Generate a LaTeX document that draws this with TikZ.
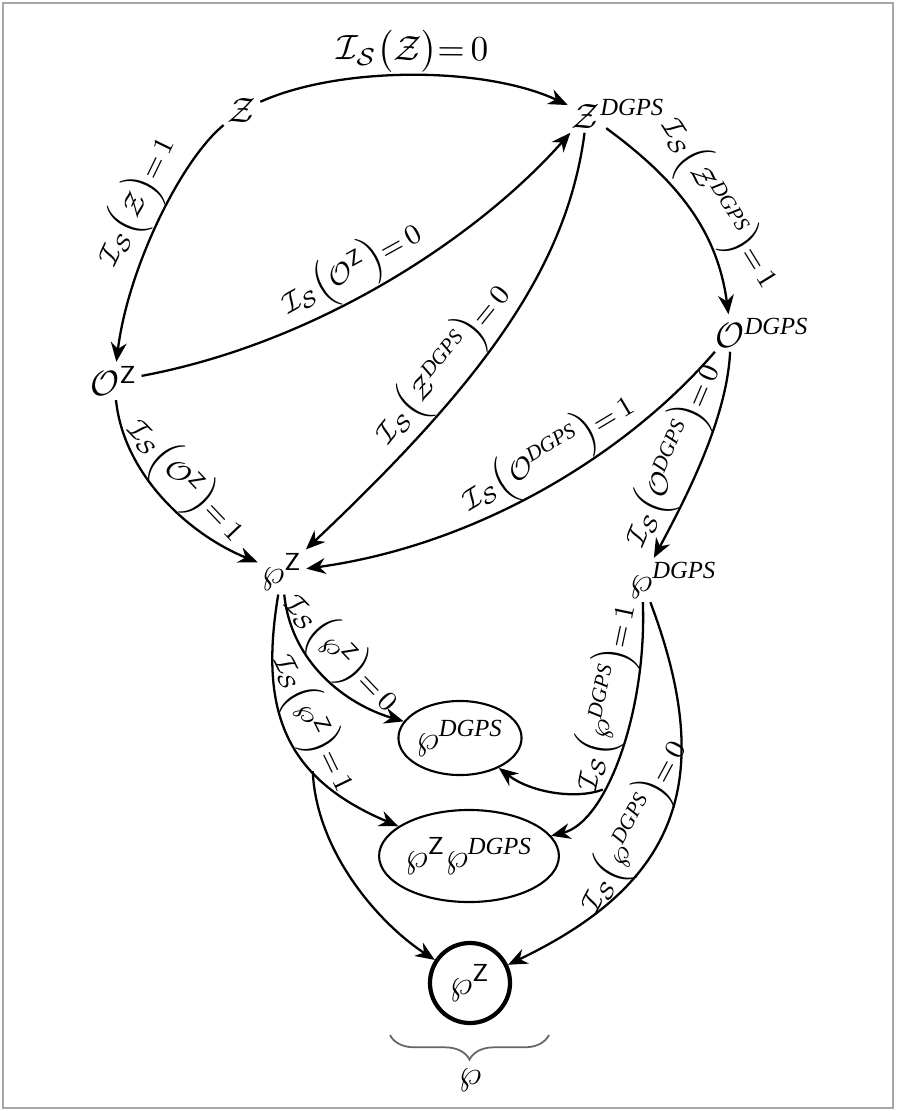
\documentclass[tikz,border=0pt]{standalone}
\usepackage{amsmath}
\usepackage{mathtools}
\usepackage{fontspec}
\setmainfont{Liberation Serif}
\usetikzlibrary{arrows.meta,shapes.geometric,decorations.pathreplacing}
\newcommand{\IS}{\mathcal{I}_{\mathcal{S}}}
\newcommand{\eqv}[1]{{=}\,#1}
\begin{document}
\begin{tikzpicture}[x=0.01cm,y=-0.01cm,
  arr/.style={-{Stealth[length=5.5pt,width=4.5pt]},line width=0.65pt},
  st/.style={inner sep=1pt},
  lab/.style={sloped,above,inner sep=0pt,font=\footnotesize},
  ell/.style={ellipse,draw,line width=0.6pt,inner sep=0pt}]
\useasboundingbox (0,0) rectangle (896,1111);
\draw[gray!70,line width=0.5pt] (3,3) rectangle (893,1108);

% nodes
\node[st] (Z)  at (242,110) {$\mathcal{Z}$};
\node[st] (ZD) at (587,114) {$\mathcal{Z}^{\mathrlap{\mathit{DGPS}}}$};
\node[st] (OZ) at (114,381) {$\mathcal{O}^{\mathsf{Z}}$};
\node[st] (OD) at (731,333) {$\mathcal{O}^{\mathrlap{\mathit{DGPS}}}$};
\node[st] (PZ) at (282,572) {$\wp^{\mathsf{Z}}$};
\node[st] (PD) at (642,580) {$\wp^{\mathrlap{\mathit{DGPS}}}$};
\node[ell,minimum width=1.1cm,minimum height=0.74cm] (E1) at (460,738) {$\wp^{\mathit{DGPS}}$};
\node[ell,minimum width=1.32cm,minimum height=0.92cm] (E2) at (469,856) {$\wp^{\mathsf{Z}}\wp^{\mathit{DGPS}}$};
\node[circle,draw,line width=1.2pt,minimum size=0.8cm,inner sep=0pt] (C) at (470,983) {$\wp^{\mathsf{Z}}$};

% edges
\draw[arr] (Z) .. controls (340,66) and (484,66) .. (ZD)
  node[lab,pos=0.5,inner sep=0.5pt,font=\normalsize] {$\IS\bigl(\mathcal{Z}\bigr)\eqv{0}$};
\draw[arr] (Z) .. controls (181,160) and (128,268) .. (OZ)
  node[lab,pos=0.47] {$\IS\Bigl(\mathcal{Z}\Bigr)\eqv{1}$};
\draw[arr] (OZ) .. controls (318,343) and (478,237) .. (ZD)
  node[lab,pos=0.45] {$\IS\Bigl(\mathcal{O}^{\mathsf{Z}}\Bigr)\eqv{0}$};
\draw[arr] (OZ) .. controls (124,477) and (192,536) .. (PZ)
  node[lab,pos=0.5] {$\IS\Bigl(\mathcal{O}^{\mathsf{Z}}\Bigr)\eqv{1}$};
\draw[arr] (ZD) .. controls (567,268) and (482,383) .. (PZ)
  node[lab,pos=0.63] {$\IS\Bigl(\mathcal{Z}^{\mathit{DGPS}}\Bigr)\eqv{0}$};
\draw[arr] (ZD) .. controls (674,178) and (717,228) .. (OD)
  node[lab,pos=0.56] {$\IS\Bigl(\mathcal{Z}^{\mathit{DGPS}}\Bigr)\eqv{1}$};
\draw[arr] (OD) .. controls (627,454) and (478,545) .. (PZ)
  node[lab,pos=0.45] {$\IS\Bigl(\mathcal{O}^{\mathit{DGPS}}\Bigr)\eqv{1}$};
\draw[arr] (OD) .. controls (727,418) and (687,496) .. (PD)
  node[lab,pos=0.55] {$\IS\Bigl(\mathcal{O}^{\mathit{DGPS}}\Bigr)\eqv{0}$};
\draw[arr] (PZ) .. controls (291,662) and (345,704) .. (E1)
  node[lab,pos=0.47] {$\IS\Bigl(\wp^{\mathsf{Z}}\Bigr)\eqv{0}$};
\draw[arr] (PZ) .. controls (259,710) and (284,778) .. (E2)
  node[lab,pos=0.5] {$\IS\Bigl(\wp^{\mathsf{Z}}\Bigr)\eqv{1}$}
  coordinate[pos=0.67] (b1);
\draw[arr] (b1) .. controls (316,850) and (377,922) .. (C);
\draw[arr] (PD) .. controls (647,710) and (607,822) .. (E2)
  node[lab,pos=0.32] {$\IS\Bigl(\wp^{\mathit{DGPS}}\Bigr)\eqv{1}$}
  coordinate[pos=0.65] (b2);
\draw[arr] (b2) .. controls (575,800) and (530,792) .. (E1);
\draw[arr] (PD) .. controls (720,787) and (672,886) .. (C)
  node[lab,pos=0.55] {$\IS\Bigl(\wp^{\mathit{DGPS}}\Bigr)\eqv{0}$};

% brace
\coordinate (bl) at (390,1035);
\coordinate (br) at (549,1035);
\draw[gray!80!black,line width=0.5pt,decorate,decoration={brace,mirror,amplitude=7pt}] (bl) -- (br);
\node (Pb) at (470,1080) {$\wp$};
\end{tikzpicture}
\end{document}
